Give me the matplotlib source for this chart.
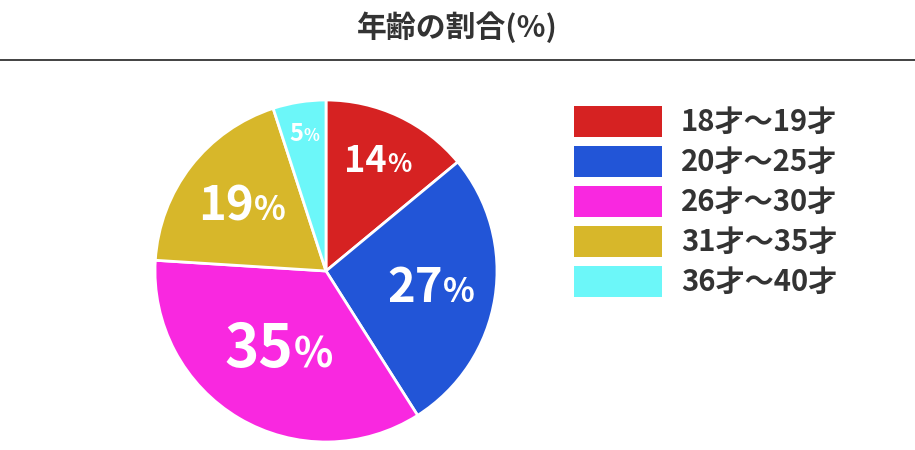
import numpy as np
import matplotlib
matplotlib.use("Agg")
import matplotlib.pyplot as plt
from matplotlib.patches import Rectangle
from matplotlib.offsetbox import TextArea, HPacker, AnnotationBbox

plt.rcParams['font.family'] = ['Noto Sans CJK JP', 'DejaVu Sans']

# data
title = '年齢の割合(%)'
categories = ['18才〜19才', '20才〜25才', '26才〜30才', '31才〜35才', '36才〜40才']
shares = [14, 27, 35, 19, 5]
colors = ['#d62222', '#2255d7', '#f928e0', '#d7b72a', '#6cf7f9']

# label style per slice (distance from centre as fraction of radius, font size)
label_dist = [0.71, 0.62, 0.54, 0.62, 0.81]
label_size = [26, 34, 42, 34, 17]

W, H = 915, 450
fig = plt.figure(figsize=(W / 100, H / 100), dpi=100, facecolor='white')

# overlay axes in pixel coords for title, rule and legend
ov = fig.add_axes([0, 0, 1, 1])
ov.set_xlim(0, W)
ov.set_ylim(H, 0)
ov.axis('off')

ov.text(W / 2, 27, title, ha='center', va='center', fontsize=21.5,
        fontweight='bold', color='#333333')
ov.plot([0, W], [60, 60], color='#333333', lw=1.3)

# pie
cx, cy, r = 326, 271, 171
ax = fig.add_axes([(cx - r) / W, (H - cy - r) / H, 2 * r / W, 2 * r / H])
wedges, _ = ax.pie(shares, colors=colors, startangle=90, counterclock=False,
                   radius=1.0, wedgeprops=dict(edgecolor='white', linewidth=2))
ax.set_xlim(-1, 1)
ax.set_ylim(-1, 1)
ax.set_aspect('equal')
ax.axis('off')

total = sum(shares)
start = 90.0
for i, v in enumerate(shares):
    ang = np.deg2rad(start - v / total * 360 / 2)
    start -= v / total * 360
    x, y = label_dist[i] * np.cos(ang), label_dist[i] * np.sin(ang)
    num = TextArea(str(v), textprops=dict(color='white', fontsize=label_size[i],
                                          fontweight='bold'))
    pct = TextArea('%', textprops=dict(color='white', fontsize=label_size[i] * 0.7,
                                       fontweight='bold'))
    box = HPacker(children=[num, pct], align='baseline', pad=0, sep=0)
    ab = AnnotationBbox(box, (x, y), xycoords='data', box_alignment=(0.5, 0.5),
                        frameon=False, pad=0)
    ax.add_artist(ab)

# legend
for i, (lab, col) in enumerate(zip(categories, colors)):
    y0 = 106 + i * 40
    ov.add_patch(Rectangle((574, y0), 88, 31, facecolor=col, edgecolor='none'))
    ov.text(681, y0 + 15.5, lab, ha='left', va='center', fontsize=21,
            fontweight='bold', color='#333333')

fig.savefig('out.png', dpi=100, facecolor='white')
